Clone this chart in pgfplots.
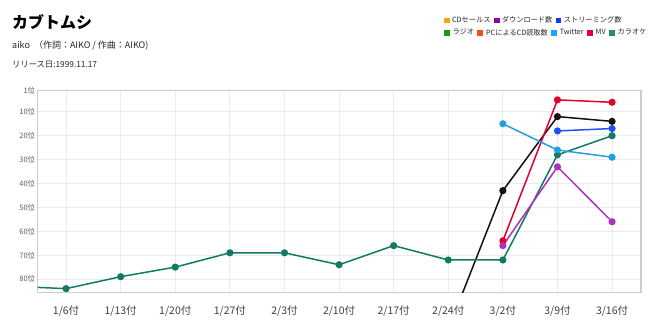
\documentclass[border=0pt]{standalone}
\usepackage{fontspec}
\setmainfont{Noto Sans CJK JP}
\usepackage{pgfplots}
\pgfplotsset{compat=1.18}
\definecolor{cCD}{HTML}{FFA500}
\definecolor{cDL}{HTML}{8E00A8}
\definecolor{cST}{HTML}{0A3CFF}
\definecolor{cRA}{HTML}{1A9A1A}
\definecolor{cPC}{HTML}{FF4A1A}
\definecolor{cTW}{HTML}{1AA8F5}
\definecolor{cMV}{HTML}{E6003A}
\definecolor{cKA}{HTML}{1F8F7A}
\definecolor{lDL}{HTML}{B030BE}
\definecolor{lST}{HTML}{2050F0}
\definecolor{lTW}{HTML}{22A0DF}
\definecolor{lMV}{HTML}{E2002C}
\definecolor{lKA}{HTML}{107A63}
\definecolor{lBK}{HTML}{111111}
\definecolor{boxc}{HTML}{C9CDD4}
\definecolor{gridc}{HTML}{ECECEC}
\pgfplotsset{
  mylegend/.style={
    legend columns=-1,
    legend image code/.code={\fill[##1, draw=none] (0pt,-2.9pt) rectangle (5.8pt,2.9pt); \path (7.5pt,0pt);},
    legend style={draw=none, fill=none, inner sep=0pt,
      font=\fontsize{7.2}{9}\selectfont, text=black!85,
      /tikz/every even column/.append style={column sep=2.8pt},
      nodes={inner sep=0.5pt}},
  }
}
\begin{document}
\begin{tikzpicture}
\path[use as bounding box] (0pt,0pt) rectangle (650pt,321pt);
\node[anchor=west,inner sep=0pt,font=\fontsize{16}{18}\selectfont\bfseries] at (12pt,298.5pt) {カブトムシ};
\node[anchor=west,inner sep=0pt,font=\fontsize{9}{11}\selectfont,text=black!85] at (12pt,275pt) {aiko\ \ （作詞：AIKO / 作曲：AIKO)};
\node[anchor=west,inner sep=0pt,font=\fontsize{8.3}{10}\selectfont,text=black!85] at (12pt,256pt) {リリース日:1999.11.17};
\begin{axis}[at={(37.7pt,28.3pt)}, anchor=south west, scale only axis,
  width=603.3pt, height=202.4pt, hide axis,
  xmin=0, xmax=1, ymin=0, ymax=1, mylegend,
  legend style={at={(0.673,1.345)}, anchor=west}]
\addlegendimage{fill=cCD}\addlegendentry{CDセールス}
\addlegendimage{fill=cDL}\addlegendentry{ダウンロード数}
\addlegendimage{fill=cST}\addlegendentry{ストリーミング数}
\end{axis}
\begin{axis}[at={(37.7pt,28.3pt)}, anchor=south west, scale only axis,
  width=603.3pt, height=202.4pt,
  xmin=-0.52, xmax=10.53, ymin=1, ymax=85.7, y dir=reverse,
  xtick={0,...,10},
  xticklabels={1/6付,1/13付,1/20付,1/27付,2/3付,2/10付,2/17付,2/24付,3/2付,3/9付,3/16付},
  ytick={1,10,20,30,40,50,60,70,80},
  yticklabels={1位,10位,20位,30位,40位,50位,60位,70位,80位},
  grid=major, major grid style={draw=gridc, line width=0.8pt},
  axis line style={draw=boxc, line width=1.5pt},
  tick style={draw=none},
  xticklabel style={font=\fontsize{10.5}{12}\selectfont, text=black!75, yshift=-10pt},
  yticklabel style={font=\fontsize{7.5}{9}\selectfont, text=black!65, xshift=1pt},
  mylegend,
  legend style={at={(0.673,1.284)}, anchor=west},
  every axis plot/.append style={line width=1.5pt, mark=*, mark size=2.8pt},
]
\addlegendimage{fill=cRA}\addlegendentry{ラジオ}
\addlegendimage{fill=cPC}\addlegendentry{PCによるCD読取数}
\addlegendimage{fill=cTW}\addlegendentry{Twitter}
\addlegendimage{fill=cMV}\addlegendentry{MV}
\addlegendimage{fill=cKA}\addlegendentry{カラオケ}
\addplot[forget plot, color=lBK, mark options={fill=lBK}] coordinates {(7,101)(8,43)(9,12)(10,14)};
\addplot[forget plot, color=lKA, mark options={fill=lKA}] coordinates {(-1,83)(0,84)(1,79)(2,75)(3,69)(4,69)(5,74)(6,66)(7,72)(8,72)(9,28)(10,20)};
\addplot[forget plot, color=lMV, mark options={fill=lMV}] coordinates {(8,64)(9,5)(10,6)};
\addplot[forget plot, color=lTW, mark options={fill=lTW}] coordinates {(8,15)(9,26)(10,29)};
\addplot[forget plot, color=lDL, mark options={fill=lDL}] coordinates {(8,66)(9,33)(10,56)};
\addplot[forget plot, color=lST, mark options={fill=lST}] coordinates {(9,18)(10,17)};
\end{axis}
\end{tikzpicture}
\end{document}
